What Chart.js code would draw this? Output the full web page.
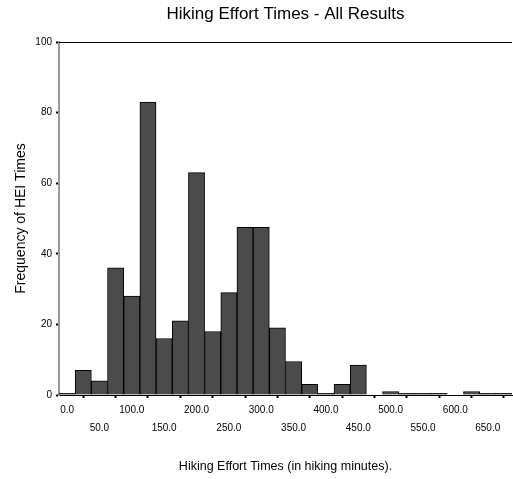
<!DOCTYPE html>
<html>
<head>
<meta charset="utf-8">
<script src="https://cdn.jsdelivr.net/npm/chart.js@4.4.0/dist/chart.umd.min.js"></script>
<style>
  html, body { margin: 0; padding: 0; background: #ffffff; }
  #grafico { display: block; }
</style>
</head>
<body>
<canvas id="grafico" width="513" height="479"></canvas>
<script>
// bin centres (minutes), 25-minute bins
const binCentres = [0, 25, 50, 75, 100, 125, 150, 175, 200, 225, 250, 275, 300, 325,
  350, 375, 400, 425, 450, 475, 500, 525, 550, 575, 600, 625, 650, 675];
const frequencies = [0.5, 7, 4, 36, 28, 83, 16, 21, 63, 18, 29, 47.5, 47.5, 19,
  9.5, 3, 0.5, 3, 8.5, 0, 1, 0.5, 0.5, 0.5, 0, 1, 0.5, 0.5];
const xTickValues = [0, 50, 100, 150, 200, 250, 300, 350, 400, 450, 500, 550, 600, 650];
const yTickValues = [0, 20, 40, 60, 80, 100];
const chartTitle = 'Hiking Effort Times - All Results';

const fontFamily = "'Liberation Sans', Arial, sans-serif";

// top frame line + title centred over the plot area
const frameAndTitle = {
  id: 'frameAndTitle',
  afterDraw(chart) {
    const { ctx, chartArea } = chart;
    ctx.save();
    ctx.strokeStyle = '#000000';
    ctx.lineWidth = 1;
    ctx.beginPath();
    ctx.moveTo(chartArea.left, chartArea.top + 0.5);
    ctx.lineTo(chartArea.right, chartArea.top + 0.5);
    ctx.stroke();

    ctx.fillStyle = '#000000';
    ctx.font = "17px " + fontFamily;
    ctx.textAlign = 'center';
    ctx.textBaseline = 'alphabetic';
    ctx.fillText(chartTitle, (chartArea.left + chartArea.right) / 2, 19);
    ctx.restore();
  }
};

const ctx = document.getElementById('grafico').getContext('2d');

new Chart(ctx, {
  type: 'bar',
  data: {
    datasets: [{
      data: binCentres.map((c, i) => ({ x: c, y: frequencies[i] })),
      backgroundColor: '#4b4b4b',
      borderColor: '#000000',
      borderWidth: 1,
      barPercentage: 1,
      categoryPercentage: 1
    }]
  },
  options: {
    responsive: false,
    animation: false,
    layout: { padding: { top: 42, left: 0, right: 1, bottom: 0 } },
    plugins: {
      legend: { display: false },
      tooltip: { enabled: false },
      title: { display: false }
    },
    scales: {
      x: {
        type: 'linear',
        min: -12.5,
        max: 687.5,
        offset: false,
        afterFit: scale => { scale.height = 84; },
        afterBuildTicks: scale => {
          scale.ticks = xTickValues.map(v => ({ value: v }));
        },
        grid: {
          drawOnChartArea: false,
          drawTicks: true,
          tickLength: 3,
          tickWidth: 2,
          tickColor: '#000000'
        },
        border: { display: true, color: '#000000', width: 1 },
        ticks: {
          autoSkip: false,
          maxRotation: 0,
          padding: 3,
          color: '#000000',
          font: { size: 10, family: fontFamily, lineHeight: 1.8 },
          callback: value => {
            const label = value.toFixed(1);
            return (value / 50) % 2 === 0 ? [label, ''] : ['', label];
          }
        },
        title: {
          display: true,
          text: 'Hiking Effort Times (in hiking minutes).',
          color: '#000000',
          font: { size: 12.5, family: fontFamily },
          padding: { top: 0, bottom: 5 }
        }
      },
      y: {
        min: 0,
        max: 100,
        afterFit: scale => { scale.width = 59; },
        afterBuildTicks: scale => {
          scale.ticks = yTickValues.map(v => ({ value: v }));
        },
        grid: {
          drawOnChartArea: false,
          drawTicks: true,
          tickLength: 3,
          tickWidth: 2,
          tickColor: '#000000'
        },
        border: { display: true, color: '#999999', width: 2 },
        ticks: {
          padding: 4,
          color: '#000000',
          font: { size: 10, family: fontFamily }
        },
        title: {
          display: true,
          text: 'Frequency of HEI Times',
          color: '#000000',
          font: { size: 14, family: fontFamily },
          padding: { top: 13, bottom: 0 }
        }
      }
    }
  },
  plugins: [frameAndTitle]
});
</script>
</body>
</html>
